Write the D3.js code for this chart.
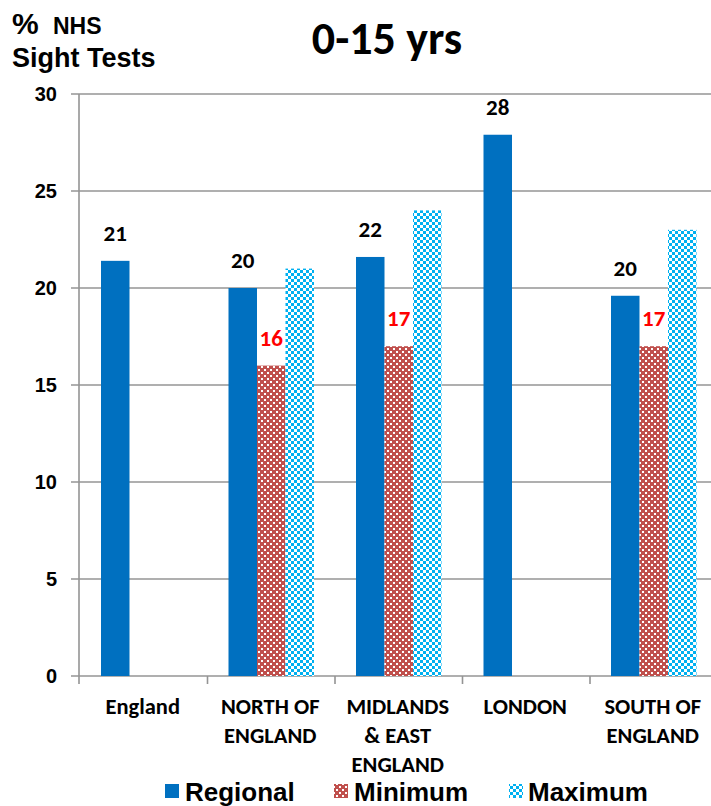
<!DOCTYPE html>
<html>
<head>
<meta charset="utf-8">
<script src="https://cdn.jsdelivr.net/npm/d3@7"></script>
<style>
  html, body { margin: 0; padding: 0; background: #fff; }
  svg { display: block; }
</style>
</head>
<body>
<svg id="chart" width="711" height="806"></svg>
<script>
// ---- data ----
const categories = ["England", "NORTH OF ENGLAND", "MIDLANDS & EAST ENGLAND", "LONDON", "SOUTH OF ENGLAND"];
const categoryLines = [["England"], ["NORTH OF", "ENGLAND"], ["MIDLANDS", "& EAST", "ENGLAND"], ["LONDON"], ["SOUTH OF", "ENGLAND"]];
const seriesNames = ["Regional", "Minimum", "Maximum"];
const regional = [21.4, 20.0, 21.6, 27.9, 19.6];
const minimum = [null, 16, 17, null, 17];
const maximum = [null, 21, 24, null, 23];
const yTicks = [0, 5, 10, 15, 20, 25, 30];

// ---- setup ----
const svg = d3.select("#chart");
const W = 711, H = 806;
const plotLeft = 80, plotTop = 94, plotBottom = 676;
const bandW = 127.5;

const x = d3.scaleBand().domain(categories).range([plotLeft, plotLeft + bandW * categories.length]).padding(0);
const x1 = d3.scaleBand().domain(seriesNames).range([21, 21 + 85.5]).padding(0);
const y = d3.scaleLinear().domain([0, 30]).range([plotBottom, plotTop]);

const colors = { Regional: "#0070C0", Minimum: "#C0504D", Maximum: "#00B0F0" };

// patterns
const defs = svg.append("defs");
const pMin = defs.append("pattern").attr("id", "patMin").attr("patternUnits", "userSpaceOnUse")
  .attr("width", 6).attr("height", 6);
pMin.append("rect").attr("width", 6).attr("height", 6).attr("fill", colors.Minimum);
pMin.append("rect").attr("x", 3).attr("y", 0).attr("width", 2).attr("height", 2).attr("fill", "#fff");
pMin.append("rect").attr("x", 0).attr("y", 3).attr("width", 2).attr("height", 2).attr("fill", "#fff");

const pMax = defs.append("pattern").attr("id", "patMax").attr("patternUnits", "userSpaceOnUse")
  .attr("width", 6).attr("height", 6);
pMax.append("rect").attr("width", 6).attr("height", 6).attr("fill", "#fff");
pMax.append("rect").attr("x", 0).attr("y", 0).attr("width", 3).attr("height", 3).attr("fill", colors.Maximum);
pMax.append("rect").attr("x", 3).attr("y", 3).attr("width", 3).attr("height", 3).attr("fill", colors.Maximum);

const fills = { Regional: colors.Regional, Minimum: "url(#patMin)", Maximum: "url(#patMax)" };

// gridlines + y ticks
const gridColor = "#949494";
svg.append("g").selectAll("line").data(yTicks).join("line")
  .attr("x1", plotLeft - 9).attr("x2", W)
  .attr("y1", d => y(d)).attr("y2", d => y(d))
  .attr("stroke", gridColor).attr("stroke-width", 1.6);

// y axis line
svg.append("line").attr("x1", plotLeft - 1).attr("x2", plotLeft - 1)
  .attr("y1", y(30)).attr("y2", plotBottom + 8)
  .attr("stroke", gridColor).attr("stroke-width", 1.6);

// x ticks at band boundaries
const boundaries = categories.map(c => x(c)).slice(1);
svg.append("g").selectAll("line").data(boundaries).join("line")
  .attr("x1", d => d).attr("x2", d => d)
  .attr("y1", plotBottom).attr("y2", plotBottom + 8)
  .attr("stroke", gridColor).attr("stroke-width", 1.6);

// y tick labels
svg.append("g").selectAll("text").data(yTicks).join("text")
  .attr("x", 57).attr("y", d => y(d) + 7)
  .attr("text-anchor", "end")
  .attr("font-family", "Liberation Sans, Arial, sans-serif")
  .attr("font-weight", "bold").attr("font-size", 20)
  .text(d => d);

// bars
const seriesData = { Regional: regional, Minimum: minimum, Maximum: maximum };
const bars = [];
categories.forEach((c, i) => {
  seriesNames.forEach(s => {
    const v = seriesData[s][i];
    if (v != null) bars.push({ c, s, v });
  });
});
svg.append("g").selectAll("rect").data(bars).join("rect")
  .attr("x", d => x(d.c) + x1(d.s))
  .attr("width", x1.bandwidth())
  .attr("y", d => y(d.v))
  .attr("height", d => plotBottom - y(d.v))
  .attr("fill", d => fills[d.s]);

// labels
const labelFont = "Calibri, Carlito, Lato, sans-serif";
svg.append("g").selectAll("text").data(bars.filter(d => d.s !== "Maximum")).join("text")
  .attr("x", d => x(d.c) + x1(d.s) + x1.bandwidth() / 2)
  .attr("y", d => y(d.v) - 20)
  .attr("text-anchor", "middle")
  .attr("font-family", labelFont).attr("font-weight", "bold").attr("font-size", 23)
  .attr("fill", d => d.s === "Minimum" ? "#FF0000" : "#000")
  .text(d => Math.round(d.v));

// category labels
categories.forEach((c, i) => {
  const cx = x(c) + x.bandwidth() / 2 - 1;
  const t = svg.append("text")
    .attr("x", cx).attr("y", 714)
    .attr("text-anchor", "middle")
    .attr("font-family", labelFont).attr("font-weight", "bold").attr("font-size", 22.5);
  categoryLines[i].forEach((ln, j) => {
    t.append("tspan").attr("x", cx).attr("y", 714 + j * 29).text(ln);
  });
});

// title
svg.append("text").attr("x", 387).attr("y", 54).attr("text-anchor", "middle")
  .attr("font-family", labelFont).attr("font-weight", "bold").attr("font-size", 46)
  .text("0-15 yrs");

// y axis title
svg.append("text").attr("x", 12).attr("y", 34)
  .attr("font-family", "Liberation Sans, Arial, sans-serif").attr("font-weight", "bold").attr("font-size", 30)
  .text("%");
svg.append("text").attr("x", 53).attr("y", 34)
  .attr("font-family", "Liberation Sans, Arial, sans-serif").attr("font-weight", "bold").attr("font-size", 23)
  .text("NHS");
svg.append("text").attr("x", 12).attr("y", 67)
  .attr("font-family", "Liberation Sans, Arial, sans-serif").attr("font-weight", "bold").attr("font-size", 27)
  .text("Sight Tests");

// legend
const legendPos = [{ s: "Regional", sx: 165, tx: 185 }, { s: "Minimum", sx: 334, tx: 354 }, { s: "Maximum", sx: 509, tx: 528 }];
const lg = svg.append("g");
lg.selectAll("rect").data(legendPos).join("rect")
  .attr("x", d => d.sx).attr("y", 784).attr("width", 14).attr("height", 14)
  .attr("fill", d => fills[d.s]);
lg.selectAll("text").data(legendPos).join("text")
  .attr("x", d => d.tx).attr("y", 801)
  .attr("font-family", "Liberation Sans, Arial, sans-serif").attr("font-weight", "bold").attr("font-size", 26)
  .text(d => d.s);
</script>
</body>
</html>
